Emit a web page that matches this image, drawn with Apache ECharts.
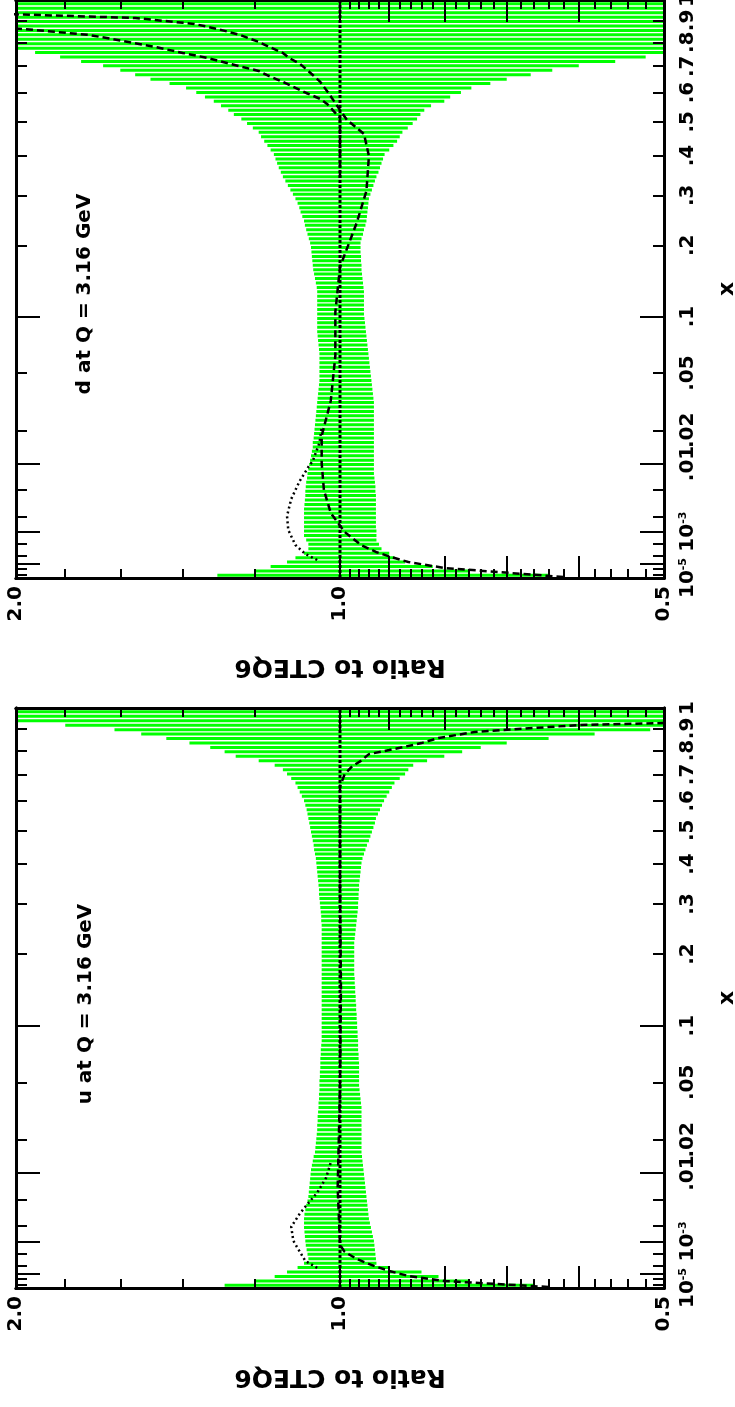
<!DOCTYPE html>
<html>
<head>
<meta charset="utf-8">
<script src="https://cdn.jsdelivr.net/npm/echarts@6/dist/echarts.min.js"></script>
<style>
html,body{margin:0;padding:0;background:#fff;}
#chart{width:735px;height:1407px;}
</style>
</head>
<body>
<div id="chart"></div>
<script>
// ---------------- data ----------------
// position of every error bar on the x axis, expressed as x^(1/3) (the plot's x scale)
const barXCbrt = [
0.0260,0.0335,0.0410,0.0485,0.0560,0.0635,0.0710,0.0785,0.0860,0.0935,
0.1010,0.1085,0.1160,0.1235,0.1310,0.1385,0.1460,0.1535,0.1610,0.1685,
0.1760,0.1835,0.1910,0.1985,0.2060,0.2135,0.2210,0.2285,0.2360,0.2435,
0.2510,0.2585,0.2660,0.2735,0.2810,0.2885,0.2960,0.3035,0.3110,0.3185,
0.3260,0.3335,0.3410,0.3485,0.3560,0.3635,0.3710,0.3785,0.3860,0.3935,
0.4010,0.4085,0.4160,0.4235,0.4310,0.4385,0.4460,0.4535,0.4610,0.4685,
0.4760,0.4835,0.4910,0.4985,0.5060,0.5135,0.5210,0.5285,0.5360,0.5435,
0.5510,0.5585,0.5660,0.5735,0.5810,0.5885,0.5960,0.6035,0.6110,0.6185,
0.6260,0.6335,0.6410,0.6485,0.6560,0.6635,0.6710,0.6785,0.6860,0.6935,
0.7010,0.7085,0.7160,0.7235,0.7310,0.7385,0.7460,0.7535,0.7610,0.7685,
0.7760,0.7835,0.7910,0.7985,0.8060,0.8135,0.8210,0.8285,0.8360,0.8435,
0.8510,0.8585,0.8660,0.8735,0.8810,0.8885,0.8960,0.9035,0.9110,0.9185,
0.9260,0.9335,0.9410,0.9485,0.9560,0.9635,0.9710,0.9785,0.9860,0.9935];

// d quark band: upper / lower ratio of each error bar
const dHi = [
1.30,1.20,1.16,1.12,1.10,1.08,1.07,1.07,1.075,1.08,
1.08,1.08,1.08,1.08,1.08,1.08,1.079,1.078,1.077,1.077,
1.076,1.075,1.073,1.072,1.07,1.068,1.066,1.064,1.062,1.06,
1.06,1.058,1.057,1.056,1.055,1.054,1.053,1.052,1.051,1.05,
1.049,1.048,1.047,1.046,1.045,1.045,1.045,1.045,1.045,1.045,
1.045,1.046,1.047,1.048,1.049,1.05,1.05,1.05,1.05,1.05,
1.05,1.05,1.05,1.05,1.05,1.051,1.053,1.055,1.057,1.059,
1.06,1.061,1.062,1.063,1.064,1.066,1.069,1.072,1.075,1.078,
1.08,1.084,1.088,1.091,1.095,1.10,1.106,1.112,1.118,1.124,
1.13,1.135,1.14,1.144,1.148,1.152,1.16,1.168,1.176,1.184,
1.19,1.205,1.22,1.235,1.255,1.27,1.29,1.31,1.335,1.36,
1.39,1.44,1.50,1.55,1.60,1.66,1.74,1.82,1.92,2.1,
2.6,2.6,2.6,2.6,2.6,2.6,2.6,2.6,2.6,2.6];
const dLo = [
0.64,0.76,0.82,0.87,0.89,0.90,0.915,0.92,0.925,0.925,
0.925,0.926,0.926,0.926,0.926,0.926,0.926,0.926,0.926,0.927,
0.927,0.928,0.929,0.93,0.93,0.93,0.93,0.93,0.93,0.93,
0.93,0.93,0.93,0.93,0.93,0.93,0.93,0.93,0.93,0.93,
0.931,0.932,0.933,0.934,0.935,0.936,0.937,0.938,0.939,0.94,
0.941,0.942,0.943,0.944,0.945,0.946,0.947,0.948,0.949,0.95,
0.95,0.95,0.95,0.95,0.95,0.951,0.952,0.953,0.954,0.955,
0.955,0.956,0.956,0.957,0.957,0.957,0.955,0.952,0.95,0.947,
0.945,0.944,0.943,0.942,0.941,0.94,0.937,0.934,0.931,0.928,
0.925,0.921,0.918,0.915,0.912,0.909,0.90,0.892,0.885,0.88,
0.875,0.865,0.856,0.848,0.842,0.835,0.823,0.80,0.79,0.772,
0.755,0.725,0.70,0.665,0.635,0.60,0.555,0.52,0.48,0.45,
0.38,0.38,0.38,0.38,0.38,0.38,0.38,0.38,0.38,0.38];

// u quark band
const uHi = [
1.28,1.20,1.15,1.12,1.095,1.08,1.07,1.072,1.074,1.076,
1.077,1.078,1.079,1.08,1.08,1.08,1.079,1.077,1.075,1.072,
1.07,1.069,1.068,1.067,1.066,1.065,1.064,1.062,1.06,1.058,
1.055,1.054,1.053,1.052,1.051,1.05,1.05,1.049,1.049,1.048,
1.047,1.047,1.046,1.046,1.045,1.045,1.045,1.044,1.044,1.043,
1.043,1.043,1.042,1.042,1.041,1.04,1.04,1.04,1.04,1.04,
1.04,1.04,1.04,1.04,1.04,1.04,1.04,1.04,1.04,1.04,
1.04,1.04,1.04,1.04,1.04,1.04,1.04,1.04,1.04,1.04,
1.04,1.04,1.041,1.041,1.042,1.043,1.044,1.045,1.046,1.046,
1.047,1.048,1.049,1.05,1.051,1.052,1.053,1.055,1.057,1.058,
1.06,1.062,1.064,1.066,1.068,1.07,1.072,1.074,1.077,1.08,
1.085,1.09,1.095,1.10,1.11,1.12,1.13,1.15,1.19,1.25,
1.28,1.32,1.38,1.45,1.53,1.62,1.8,2.6,2.6,2.6];
const uLo = [
0.66,0.76,0.81,0.84,0.90,0.925,0.926,0.927,0.928,0.929,
0.93,0.932,0.934,0.936,0.938,0.94,0.941,0.942,0.943,0.944,
0.945,0.946,0.947,0.948,0.949,0.95,0.951,0.952,0.953,0.954,
0.955,0.955,0.955,0.955,0.955,0.955,0.955,0.955,0.955,0.955,
0.955,0.956,0.957,0.958,0.959,0.96,0.96,0.96,0.96,0.96,
0.96,0.961,0.961,0.962,0.962,0.962,0.963,0.963,0.964,0.964,
0.965,0.965,0.966,0.966,0.967,0.967,0.968,0.968,0.969,0.969,
0.97,0.97,0.97,0.97,0.97,0.97,0.97,0.97,0.969,0.968,
0.967,0.966,0.965,0.964,0.963,0.962,0.962,0.961,0.961,0.96,
0.96,0.959,0.958,0.957,0.956,0.955,0.953,0.95,0.947,0.944,
0.94,0.937,0.934,0.931,0.928,0.926,0.922,0.918,0.914,0.91,
0.905,0.90,0.895,0.89,0.88,0.87,0.864,0.855,0.83,0.80,
0.77,0.74,0.70,0.64,0.58,0.515,0.49,0.38,0.38,0.38];

// comparison curves (ratio, and x^(1/3) position)
const dDashRatio = [0.62,0.80,0.864,0.90,0.926,0.956,0.99,1.02,1.035,1.04,1.04,1.02,1.01,1.01,1.0,0.965,0.945,0.94,0.95,0.985,1.0,1.025,1.043,1.06,1.089,1.115,1.13,1.163,1.19,1.238,1.30,1.366,1.55,2.2];
const dDashX     = [0.0232,0.0385,0.0486,0.0580,0.0656,0.0774,0.0994,0.1316,0.1705,0.2162,0.2620,0.3212,0.3974,0.4719,0.5481,0.6225,0.6767,0.7360,0.7732,0.7969,0.8138,0.8426,0.8613,0.8731,0.8917,0.9019,0.9104,0.9205,0.9290,0.9408,0.9510,0.9595,0.9696,0.9781];
const dDash2Ratio = [1.0,1.0,1.028,1.043,1.075,1.13,1.17,1.19,1.264,1.328,1.40,1.485,1.573,1.71,1.97,2.3];
const dDash2X     = [0.6987,0.8003,0.8240,0.8325,0.8426,0.8613,0.8731,0.8799,0.8917,0.9019,0.9104,0.9205,0.9290,0.9408,0.9510,0.9561];
const dDotRatio = [1.05,1.077,1.10,1.117,1.12,1.11,1.09,1.07,1.06,1.045,1.04];
const dDotX     = [0.0520,0.0622,0.0774,0.1028,0.1265,0.1553,0.1858,0.2095,0.2196,0.2501,0.2755];

const uDashRatio = [0.64,0.80,0.864,0.90,0.93,0.965,0.99,1.0,1.005,1.0,0.998,1.0,1.0,0.99,0.974,0.957,0.94,0.90,0.84,0.81,0.75,0.6,0.5,0.45];
const uDashX     = [0.0232,0.0334,0.0419,0.0503,0.0588,0.0706,0.0825,0.0943,0.1908,0.3601,0.5294,0.6987,0.8680,0.8884,0.9019,0.9104,0.9222,0.9290,0.9408,0.9493,0.9595,0.9713,0.9747,0.9764];
const uDotRatio = [1.05,1.077,1.105,1.11,1.09,1.077,1.05,1.03,1.02];
const uDotX     = [0.0554,0.0673,0.1011,0.1248,0.1468,0.1587,0.1824,0.2078,0.2332];

// CTEQ6 itself (ratio = 1) over the full x range
const refRatio = [1.0, 1.0];
const refX = [1e-5, 1];

// axis ticks and labels
const ratioLabelValues = [2.0, 1.0, 0.5];
const ratioLabelTexts  = ['2.0', '1.0', '0.5'];
const ratioLongTicks  = [0.6, 0.7, 0.8, 0.9, 1.0];
const ratioShortTicks = [1.8,1.6,1.4,1.2,0.98,0.96,0.94,0.92,0.88,0.86,0.84,0.82,0.78,0.76,0.74,0.72,0.68,0.66,0.64,0.62,0.58,0.56,0.54,0.52];
const xLabelValues = [1e-5, 1e-3, 0.01, 0.02, 0.05, 0.1, 0.2, 0.3, 0.4, 0.5, 0.6, 0.7, 0.8, 0.9, 1];
const xLabelTexts  = ['10^-5', '10^-3', '.01', '.02', '.05', '.1', '.2', '.3', '.4', '.5', '.6', '.7', '.8', '.9', '1'];
const xLongTicks  = [1e-5, 1e-4, 1e-3, 0.01, 0.1, 1];
const xShortTicks = [2e-5, 5e-5, 2e-4, 5e-4, 0.002, 0.005, 0.02, 0.05, 0.2, 0.3, 0.4, 0.5, 0.6, 0.7, 0.8, 0.9];

const panelTitles = ['d at Q = 3.16 GeV', 'u at Q = 3.16 GeV'];
const axisTitleRatio = 'Ratio to CTEQ6';
const axisTitleX = 'x';

// ---------------- layout / style ----------------
const FONT = '"DejaVu Sans", "Liberation Sans", sans-serif';
const GREEN = '#00ff00';
const gridLayouts = [
  {left: 16, width: 648, top: 0, height: 578},
  {left: 16, width: 648, top: 708, height: 580}
];
const titlePos = [{x: 85, y: 294}, {x: 86, y: 1004}];

const L = r => Math.log2(r);       // ratio axis is logarithmic
const T = x => Math.cbrt(x);       // x axis is linear in x^(1/3)

function nearest(v, vals, texts) {
  let k = 0, best = Infinity;
  vals.forEach((x, i) => { const d = Math.abs(x - v); if (d < best) { best = d; k = i; } });
  return texts[k];
}

function ratioAxis(g, pos, ticks, len, labeled) {
  return {
    type: 'value', gridIndex: g, position: pos, min: L(0.5), max: L(2), inverse: true, z: 5,
    axisLine: {show: true, onZero: false, lineStyle: {color: '#000', width: 3}},
    axisTick: {show: true, inside: true, length: len, customValues: ticks.map(L), lineStyle: {color: '#000', width: 2}},
    axisLabel: labeled ? {
      show: true, customValues: ratioLabelValues.map(L), rotate: 90, margin: 8,
      formatter: v => nearest(v, ratioLabelValues.map(L), ratioLabelTexts),
      fontFamily: FONT, fontWeight: 'bold', fontSize: 20, color: '#000'
    } : {show: false},
    splitLine: {show: false},
    name: labeled ? axisTitleRatio : '', nameLocation: 'middle', nameGap: 76, nameRotate: 180,
    nameTextStyle: {fontFamily: FONT, fontWeight: 'bold', fontSize: 25, color: '#000'}
  };
}

function xAxisV(g, pos, ticks, len, labeled) {
  return {
    type: 'value', gridIndex: g, position: pos, min: T(1e-5), max: 1, z: 5,
    axisLine: {show: true, onZero: false, lineStyle: {color: '#000', width: 3}},
    axisTick: {show: true, inside: true, length: len, customValues: ticks.map(T), lineStyle: {color: '#000', width: 2}},
    axisLabel: labeled ? {
      show: true, customValues: xLabelValues.map(T), rotate: 90, margin: 14,
      formatter: v => {
        const s = nearest(v, xLabelValues.map(T), xLabelTexts);
        const m = s.match(/^10\^(-?\d+)$/);
        return m ? '{b|10}{s|' + m[1] + '}' : s;
      },
      rich: {
        b: {fontFamily: FONT, fontWeight: 'bold', fontSize: 20, color: '#000'},
        s: {fontFamily: FONT, fontWeight: 'bold', fontSize: 11, color: '#000', verticalAlign: 'top', padding: [0, 0, 8, 0]}
      },
      fontFamily: FONT, fontWeight: 'bold', fontSize: 20, color: '#000'
    } : {show: false},
    splitLine: {show: false},
    name: labeled ? axisTitleX : '', nameLocation: 'middle', nameGap: 52, nameRotate: 90,
    nameTextStyle: {fontFamily: FONT, fontWeight: 'bold', fontSize: 22, color: '#000'}
  };
}

const panels = [
  {lo: dLo, hi: dHi, curves: [
    {r: dDashRatio, x: dDashX, dash: [7, 4], w: 2.5},
    {r: dDash2Ratio, x: dDash2X, dash: [7, 4], w: 2.5},
    {r: dDotRatio, x: dDotX, dash: [2, 3], w: 2.5}
  ]},
  {lo: uLo, hi: uHi, curves: [
    {r: uDashRatio, x: uDashX, dash: [7, 4], w: 2.5},
    {r: uDotRatio, x: uDotX, dash: [2, 3], w: 2.5}
  ]}
];

const option = {animation: false, backgroundColor: '#fff', grid: [], xAxis: [], yAxis: [], series: [], graphic: []};

panels.forEach((p, g) => {
  option.grid.push(Object.assign({containLabel: false, outerBoundsMode: 'none'}, gridLayouts[g]));
  option.xAxis.push(ratioAxis(g, 'bottom', ratioLongTicks, 22, true));
  option.xAxis.push(ratioAxis(g, 'bottom', ratioShortTicks, 9, false));
  option.xAxis.push(ratioAxis(g, 'top', ratioLongTicks, 22, false));
  option.xAxis.push(ratioAxis(g, 'top', ratioShortTicks, 9, false));
  option.yAxis.push(xAxisV(g, 'right', xLongTicks, 24, true));
  option.yAxis.push(xAxisV(g, 'right', xShortTicks, 11, false));
  option.yAxis.push(xAxisV(g, 'left', xLongTicks, 24, false));
  option.yAxis.push(xAxisV(g, 'left', xShortTicks, 11, false));
  const ax = 4 * g;

  option.series.push({
    type: 'custom', xAxisIndex: ax, yAxisIndex: ax, clip: true, silent: true, z: 1,
    data: barXCbrt.map((t, i) => [L(p.lo[i]), L(p.hi[i]), t]),
    encode: {x: [0, 1], y: 2},
    renderItem: (params, api) => {
      const a = api.coord([api.value(0), api.value(2)]);
      const b = api.coord([api.value(1), api.value(2)]);
      return {type: 'line', shape: {x1: a[0], y1: a[1], x2: b[0], y2: b[1]}, style: {stroke: GREEN, lineWidth: 3}};
    }
  });

  option.series.push({
    type: 'line', xAxisIndex: ax, yAxisIndex: ax, silent: true, symbol: 'none', z: 3, clip: true,
    data: refRatio.map((r, i) => [L(r), T(refX[i])]),
    lineStyle: {color: '#000', width: 3, type: [3, 2]}
  });

  p.curves.forEach(c => {
    option.series.push({
      type: 'line', xAxisIndex: ax, yAxisIndex: ax, silent: true, symbol: 'none', z: 4, clip: true,
      data: c.r.map((r, i) => [L(r), c.x[i]]),
      lineStyle: {color: '#000', width: c.w, type: c.dash}
    });
  });

  option.graphic.push({
    type: 'text', x: titlePos[g].x, y: titlePos[g].y, rotation: Math.PI / 2, z: 10,
    style: {text: panelTitles[g], font: 'bold 20px ' + FONT, fill: '#000', align: 'center', verticalAlign: 'middle'}
  });
});

const chart = echarts.init(document.getElementById('chart'), null, {renderer: 'canvas'});
chart.setOption(option);
</script>
</body>
</html>
